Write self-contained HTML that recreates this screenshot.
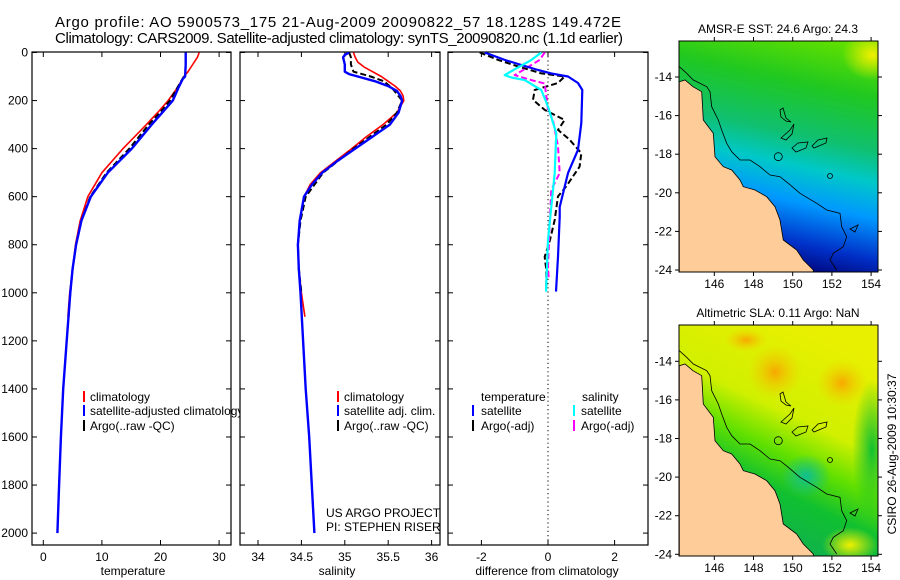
<!DOCTYPE html>
<html><head><meta charset="utf-8"><style>
html,body{margin:0;padding:0;background:#fff}
svg{display:block;font-family:"Liberation Sans",sans-serif}
</style></head><body>
<svg id="fig" width="900" height="580" viewBox="0 0 900 580" xmlns="http://www.w3.org/2000/svg">
<defs>
<clipPath id="c1"><rect x="32" y="52" width="208" height="493"/></clipPath>
<clipPath id="cp1"><rect x="32" y="52" width="199" height="493"/></clipPath>
<clipPath id="cp2"><rect x="240" y="52" width="200" height="493"/></clipPath>
<clipPath id="cp3"><rect x="448" y="52" width="200" height="493"/></clipPath>
<clipPath id="cm1"><rect x="679" y="41" width="199" height="231"/></clipPath>
<clipPath id="cm2"><rect x="679" y="325" width="199" height="231"/></clipPath>
<linearGradient id="sst" gradientUnits="userSpaceOnUse" x1="835" y1="41" x2="785" y2="272">
<stop offset="0" stop-color="#60e000"/><stop offset="0.2" stop-color="#20c820"/>
<stop offset="0.42" stop-color="#10c070"/><stop offset="0.55" stop-color="#00c8c8"/>
<stop offset="0.7" stop-color="#0098ff"/><stop offset="0.87" stop-color="#0030c8"/>
<stop offset="1" stop-color="#000070"/></linearGradient>
<linearGradient id="sla" gradientUnits="userSpaceOnUse" x1="850" y1="350" x2="760" y2="540">
<stop offset="0" stop-color="#e8f000"/><stop offset="0.4" stop-color="#d0f000"/>
<stop offset="0.58" stop-color="#60e000"/><stop offset="0.75" stop-color="#10c030"/>
<stop offset="1" stop-color="#10b050"/></linearGradient>
<radialGradient id="org"><stop offset="0" stop-color="#f8a800"/><stop offset="1" stop-color="#f0d000" stop-opacity="0"/></radialGradient>
<radialGradient id="grn"><stop offset="0" stop-color="#10c030"/><stop offset="1" stop-color="#10c030" stop-opacity="0"/></radialGradient>
<radialGradient id="teal"><stop offset="0" stop-color="#10c090"/><stop offset="1" stop-color="#10c090" stop-opacity="0"/></radialGradient>
<radialGradient id="yel"><stop offset="0" stop-color="#f0f000"/><stop offset="1" stop-color="#f0f000" stop-opacity="0"/></radialGradient>
</defs>

<text x="55" y="27" font-size="15" textLength="566">Argo profile: AO 5900573_175 21-Aug-2009 20090822_57 18.128S 149.472E</text>
<text x="55" y="43" font-size="15" textLength="568">Climatology: CARS2009. Satellite-adjusted climatology: synTS_20090820.nc (1.1d earlier)</text>

<g id="axes"></g>
<g id="series"></g>

<g font-size="12">
<line x1="84" y1="391" x2="84" y2="402" stroke="#f00" stroke-width="2"/>
<line x1="84" y1="405" x2="84" y2="416" stroke="#00f" stroke-width="2"/>
<line x1="84" y1="420" x2="84" y2="431" stroke="#000" stroke-width="2"/>
<g clip-path="url(#c1)">
<text x="90" y="401">climatology</text>
<text x="90" y="415">satellite-adjusted climatology</text>
<text x="90" y="430">Argo(..raw -QC)</text></g>
</g>
<g font-size="12">
<line x1="338" y1="391" x2="338" y2="402" stroke="#f00" stroke-width="2"/>
<line x1="338" y1="405" x2="338" y2="416" stroke="#00f" stroke-width="2"/>
<line x1="338" y1="420" x2="338" y2="431" stroke="#000" stroke-width="2"/>
<text x="344" y="401">climatology</text>
<text x="344" y="415">satellite adj. clim.</text>
<text x="344" y="430">Argo(..raw -QC)</text>
<text x="326" y="517">US ARGO PROJECT</text>
<text x="326" y="531">PI: STEPHEN RISER</text>
</g>
<g font-size="12">
<text x="481" y="401">temperature</text>
<text x="582" y="401">salinity</text>
<line x1="473" y1="405" x2="473" y2="416" stroke="#00f" stroke-width="2"/>
<line x1="473" y1="420" x2="473" y2="431" stroke="#000" stroke-width="2"/>
<line x1="574" y1="405" x2="574" y2="416" stroke="#0ff" stroke-width="2"/>
<line x1="574" y1="420" x2="574" y2="431" stroke="#f0f" stroke-width="2"/>
<text x="481" y="415">satellite</text><text x="481" y="430">Argo(-adj)</text>
<text x="581" y="415">satellite</text><text x="581" y="430">Argo(-adj)</text>
</g>

<text x="133" y="575" font-size="12" text-anchor="middle">temperature</text>
<text x="337" y="575" font-size="12" text-anchor="middle">salinity</text>
<text x="547" y="575" font-size="12" text-anchor="middle">difference from climatology</text>

<text x="778" y="33" font-size="12" text-anchor="middle">AMSR-E SST: 24.6 Argo: 24.3</text>
<text x="778" y="317" font-size="12" text-anchor="middle">Altimetric SLA: 0.11 Argo: NaN</text>
<text x="0" y="0" font-size="12" text-anchor="middle" transform="translate(896,454) rotate(-90)">CSIRO 26-Aug-2009 10:30:37</text>

<g id="maps"></g>
</svg>
<script>
// ---- profile data ----
const climTDepth=[0,20,50,80,100,150,200,250,300,400,500,600,700,800,900,1000,1100];
const climT=[26.6,26.3,25.5,24.7,24.0,22.8,21.3,19.5,17.6,13.6,10.0,7.6,6.3,5.5,5.0,4.5,4.2];
const satTDepth=[0,50,100,110,150,200,250,300,400,500,600,700,800,900,1000,1200,1400,1600,1800,2000];
const satT=[24.3,24.3,24.2,23.8,23.0,22.1,20.3,18.5,15.1,11.0,8.1,6.5,5.6,5.0,4.6,4.0,3.4,3.0,2.7,2.4];
const argoTDepth=[100,150,200,250,300,400,500,600,700,800,900,1000,1100];
const argoT=[24.0,22.8,21.6,19.9,18.0,14.7,10.8,8.0,6.5,5.6,5.0,4.6,4.3];
const climSDepth=[0,20,40,60,80,100,120,140,160,180,200,250,300,350,400,450,500,550,600,700,800,900,1000,1100];
const climS=[35.1,35.12,35.15,35.22,35.32,35.42,35.5,35.58,35.64,35.67,35.68,35.6,35.44,35.25,35.08,34.9,34.72,34.6,34.53,34.48,34.46,34.47,34.5,34.54];
const satSDepth=[0,10,20,50,80,90,100,120,140,160,180,200,250,300,350,400,450,500,550,600,700,800,900,1000,1200,1400,1600,1800,2000];
const satS=[35.05,35.0,34.98,35.0,35.0,35.05,35.15,35.35,35.5,35.6,35.64,35.66,35.62,35.52,35.32,35.12,34.92,34.74,34.62,34.53,34.48,34.46,34.47,34.49,34.52,34.55,34.59,34.62,34.65];
const argoSDepth=[0,20,50,80,100,120,150,200,250,300,400,500,600,700,800,900,1000];
const argoS=[35.05,35.07,35.07,35.1,35.3,35.45,35.55,35.66,35.6,35.48,35.1,34.75,34.55,34.49,34.46,34.47,34.5];
// ---- difference data ----
const tDiffSatDepth=[0,31,52,73,87,100,127,156,294,405,502,643,684,850,995];
const tDiffSat=[-1.9,-1.3,-0.8,-0.3,0.1,0.6,0.9,1.03,1.0,0.9,0.6,0.35,0.35,0.3,0.24];
const sDiffSatDepth=[0,31,62,94,104,115,156,225,336,502,643,780,995];
const sDiffSat=[-0.2,-0.5,-0.9,-1.3,-1.1,-0.7,-0.2,0,0.25,0.2,0.1,0,-0.06];
const sDiffArgoDepth=[0,31,69,94,115,129,239,281,391,502,571,710,891,940];
const sDiffArgo=[-0.1,-0.25,-0.7,-1.0,-0.5,-0.1,0,0.15,0.3,0.35,0.1,0.05,0.0,0.02];
const tDiffArgoDepth=[0,31,58,87,100,127,156,197,239,281,322,363,419,475,557,599,697,780,850,905,975];
const tDiffArgo=[-2.05,-1.5,-0.9,-0.2,0.5,0.3,-0.4,-0.45,-0.1,0.5,0.3,0.65,1.0,0.95,0.55,0.3,0.2,0.06,-0.1,-0.05,-0.05];
// ---- ticks ----
const depthTicks=[0,200,400,600,800,1000,1200,1400,1600,1800,2000];
const tempTicks=[0,10,20,30];
const salTicks=[34,34.5,35,35.5,36];
const diffTicks=[-2,0,2];
const lonTicks=[146,148,150,152,154];
const latTicks=[-14,-16,-18,-20,-22,-24];

const NS='http://www.w3.org/2000/svg';
const svg=document.getElementById('fig');
const axesG=document.getElementById('axes');
const seriesG=document.getElementById('series');
function mk(tag,attrs,parent){const e=document.createElementNS(NS,tag);for(const k in attrs)e.setAttribute(k,attrs[k]);(parent||svg).appendChild(e);return e;}
const yD=d=>52.5+0.2403*d;
const panels=[
 {x0:32,x1:231,sx:v=>43.3+5.86*v,ticks:tempTicks,name:'temperature-panel',clip:'cp1'},
 {x0:240,x1:440,sx:v=>258+86.8*(v-34),ticks:salTicks,name:'salinity-panel',clip:'cp2'},
 {x0:448,x1:648,sx:v=>548+33.3*v,ticks:diffTicks,name:'difference-panel',clip:'cp3'}];
const TOP=52,BOT=545;
panels.forEach((p,i)=>{
 const r=mk('rect',{x:p.x0,y:TOP,width:p.x1-p.x0,height:BOT-TOP,fill:'none',stroke:'#000','stroke-width':1.2},axesG);
 
 
 p.ticks.forEach(t=>{const x=p.sx(t);
  mk('line',{x1:x,y1:BOT,x2:x,y2:BOT-5,stroke:'#000'},axesG);
  mk('line',{x1:x,y1:TOP,x2:x,y2:TOP+5,stroke:'#000'},axesG);
  const tx=mk('text',{x:x,y:BOT+16,'font-size':12,'text-anchor':'middle'},axesG);tx.textContent=String(t);
  
  });
 depthTicks.forEach(d=>{const y=yD(d);
  mk('line',{x1:p.x0,y1:y,x2:p.x0+5,y2:y,stroke:'#000'},axesG);
  mk('line',{x1:p.x1,y1:y,x2:p.x1-5,y2:y,stroke:'#000'},axesG);
  if(i===0){const tx=mk('text',{x:28,y:y+4,'font-size':12,'text-anchor':'end'},axesG);tx.textContent=String(d);
   
   }});
});
const zl=mk('line',{x1:panels[2].sx(0),y1:TOP,x2:panels[2].sx(0),y2:BOT,stroke:'#000','stroke-dasharray':'1.2,3'},axesG);



function line(p,depths,vals,color,w,dash,name){
 const d=depths.map((dd,k)=>(k?'L':'M')+p.sx(vals[k]).toFixed(1)+','+yD(dd).toFixed(1)).join('');
 const e=mk('path',{d:d,fill:'none',stroke:color,'stroke-width':w,'clip-path':'url(#'+p.clip+')','stroke-linejoin':'round'},seriesG);
 if(dash)e.setAttribute('stroke-dasharray',dash);
 
 
}
line(panels[0],climTDepth,climT,'#f00',1.6,null,'temp-climatology-line');
line(panels[0],argoTDepth,argoT,'#000',2,'6,3','temp-argo-line');
line(panels[0],satTDepth,satT,'#00f',2.4,null,'temp-satellite-line');
line(panels[1],climSDepth,climS,'#f00',1.6,null,'sal-climatology-line');
line(panels[1],argoSDepth,argoS,'#000',2,'6,3','sal-argo-line');
line(panels[1],satSDepth,satS,'#00f',2.4,null,'sal-satellite-line');
line(panels[2],tDiffArgoDepth,tDiffArgo,'#000',2,'6,3','temp-argo-diff-line');
line(panels[2],sDiffArgoDepth,sDiffArgo,'#f0f',2,'6,3','sal-argo-diff-line');
line(panels[2],tDiffSatDepth,tDiffSat,'#00f',2.2,null,'temp-satellite-diff-line');
line(panels[2],sDiffSatDepth,sDiffSat,'#0ff',2.2,null,'sal-satellite-diff-line');

// ---- maps ----
const mapsG=document.getElementById('maps');
const lonX=l=>714.3+19.6*(l-146);
const coast="679.3,81.7 685,80 693,86.7 701.7,91.7 703.3,120 713.3,133.3 715,156.7 723.3,166.7 731.7,170 740,180 743.3,186.7 755,190 766.7,196.7 775,206.7 780,220 783.3,240 796.7,250 803.3,260 813.3,270 813.3,275 679.3,275";
const shelf="679.3,66.7 686.7,73.3 693.3,80 706.7,86.7 710,91.7 711.7,106.7 718.3,120 721.7,130 726.7,143.3 731.7,151.7 740,160 750,160 760,166.7 770,175 780,176.7 788.3,183.3 800,193.3 816.7,203.3 826.7,210 840,213.3 841.7,226.7 846.7,236.7 843.3,246.7 833.3,253.3 830,260 836.7,270";
function drawMap(off,latY0,clip,kind){
 const g=mk('g',{'clip-path':'url(#'+clip+')'},mapsG);
 
 
 mk('rect',{x:679,y:41+off,width:199,height:231,fill:kind==='sst'?'url(#sst)':'url(#sla)'},g);
 if(kind==='sla'){
  mk('ellipse',{cx:775,cy:372,rx:28,ry:28,fill:'url(#org)'},g);
  mk('ellipse',{cx:842,cy:383,rx:26,ry:24,fill:'url(#org)'},g);
  mk('ellipse',{cx:746,cy:340,rx:22,ry:12,fill:'url(#org)'},g);
  mk('ellipse',{cx:872,cy:450,rx:20,ry:70,fill:'url(#grn)'},g);
  mk('ellipse',{cx:806,cy:476,rx:25,ry:22,fill:'url(#teal)'},g);
  mk('ellipse',{cx:850,cy:545,rx:28,ry:18,fill:'url(#yel)'},g);
 } else {
  mk('ellipse',{cx:872,cy:55,rx:30,ry:25,fill:'url(#yel)'},g);
 }
 const t=mk('g',{transform:'translate(0,'+off+')'},g);
 mk('polygon',{points:coast,fill:'#fdcc98',stroke:'#000','stroke-width':0.8},t);
 mk('polyline',{points:shelf,fill:'none',stroke:'#000','stroke-width':0.8},t);
 mk('circle',{cx:778.3,cy:156.7,r:4,fill:'none',stroke:'#000','stroke-width':0.8},t);
 mk('circle',{cx:830,cy:176,r:2.5,fill:'none',stroke:'#000','stroke-width':0.8},t);
 mk('path',{d:'M780,110 L783,108 L786,118 L791,122 L786,121 L781,117 Z',fill:'none',stroke:'#000','stroke-width':0.8},t);
 mk('path',{d:'M781,138 L790,130 L794,124 L792,134 L786,140 Z',fill:'none',stroke:'#000','stroke-width':0.8},t);
 mk('path',{d:'M792,148 L798,143 L808,142 L806,148 L796,152 Z',fill:'none',stroke:'#000','stroke-width':0.8},t);
 mk('path',{d:'M812,146 L818,140 L827,138 L826,143 L814,148 Z',fill:'none',stroke:'#000','stroke-width':0.8},t);
 mk('path',{d:'M850,229 L858,225 L855,232 Z',fill:'none',stroke:'#000','stroke-width':0.8},t);
 mk('rect',{x:679,y:41+off,width:199,height:231,fill:'none',stroke:'#000','stroke-width':1},mapsG);
 lonTicks.forEach(l=>{const x=lonX(l);
  mk('line',{x1:x,y1:41+off,x2:x,y2:37+off,stroke:'#000'},mapsG);
  mk('line',{x1:x,y1:272+off,x2:x,y2:276+off,stroke:'#000'},mapsG);
  const tx=mk('text',{x:x,y:288+off,'font-size':12,'text-anchor':'middle'},mapsG);tx.textContent=String(l);
  
  });
 latTicks.forEach(la=>{const y=latY0+19.3*(-14-la);
  mk('line',{x1:878,y1:y,x2:882,y2:y,stroke:'#000'},mapsG);
  mk('line',{x1:679,y1:y,x2:675,y2:y,stroke:'#000'},mapsG);
  const tx=mk('text',{x:672,y:y+4,'font-size':12,'text-anchor':'end'},mapsG);tx.textContent=String(la);
  
  });
}
drawMap(0,77,'cm1','sst');
drawMap(284,361.3,'cm2','sla');
</script>
</body></html>
